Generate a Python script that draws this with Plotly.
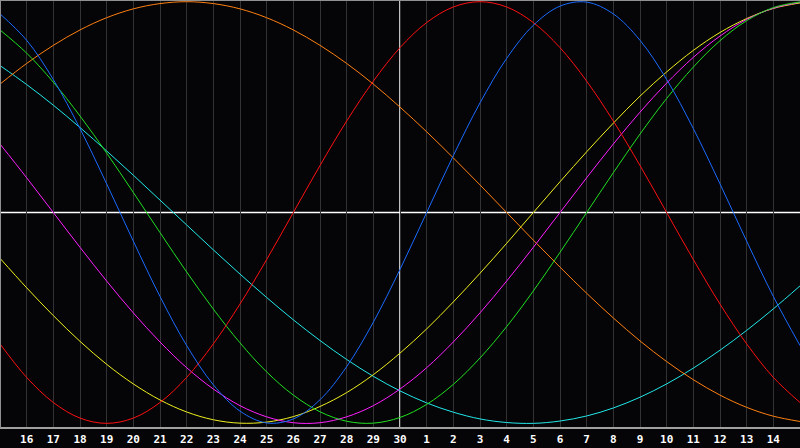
import plotly.graph_objects as go

# Day index 0..30 (0 = 15th of previous month, 15 = the 30th, 16 = 1st ...)
day_index = list(range(31))
day_labels = ["15", "16", "17", "18", "19", "20", "21", "22", "23", "24", "25", "26", "27", "28", "29", "30",
              "1", "2", "3", "4", "5", "6", "7", "8", "9", "10", "11", "12", "13", "14", "15"]
today_index = 15

physical = [0.942, 0.817, 0.631, 0.398, 0.136, -0.136, -0.398, -0.631, -0.817, -0.942, -0.998,
            -0.979, -0.888, -0.731, -0.520, -0.270, 0.0, 0.270, 0.520, 0.731, 0.888,
            0.979, 0.998, 0.942, 0.817, 0.631, 0.398, 0.136, -0.136, -0.398, -0.631]
emotional = [-0.623, -0.782, -0.901, -0.975, -1.0, -0.975, -0.901, -0.782, -0.623, -0.434, -0.223,
             0.0, 0.223, 0.434, 0.623, 0.782, 0.901, 0.975, 1.0, 0.975, 0.901,
             0.782, 0.623, 0.434, 0.223, 0.0, -0.223, -0.434, -0.623, -0.782, -0.901]
intellectual = [0.866, 0.756, 0.618, 0.458, 0.282, 0.095, -0.095, -0.282, -0.458, -0.618, -0.756,
                -0.866, -0.945, -0.990, -0.999, -0.972, -0.910, -0.815, -0.690, -0.541, -0.372,
                -0.189, 0.0, 0.189, 0.372, 0.541, 0.690, 0.815, 0.910, 0.972, 0.999]
intuitive = [0.325, 0.165, 0.0, -0.165, -0.325, -0.476, -0.614, -0.736, -0.837, -0.916, -0.969,
             -0.997, -0.997, -0.969, -0.916, -0.837, -0.736, -0.614, -0.476, -0.325, -0.165,
             0.0, 0.165, 0.325, 0.476, 0.614, 0.736, 0.837, 0.916, 0.969, 0.997]
aesthetic = [-0.217, -0.357, -0.489, -0.611, -0.720, -0.813, -0.889, -0.946, -0.983, -0.999, -0.994,
             -0.968, -0.920, -0.854, -0.769, -0.667, -0.552, -0.424, -0.288, -0.146, 0.0,
             0.146, 0.288, 0.424, 0.552, 0.667, 0.769, 0.854, 0.920, 0.968, 0.994]
awareness = [0.609, 0.707, 0.793, 0.866, 0.924, 0.966, 0.991, 1.0, 0.991, 0.966, 0.924,
             0.866, 0.793, 0.707, 0.609, 0.5, 0.383, 0.259, 0.131, 0.0, -0.131,
             -0.259, -0.383, -0.5, -0.609, -0.707, -0.793, -0.866, -0.924, -0.966, -0.991]
spiritual = [0.697, 0.607, 0.509, 0.403, 0.292, 0.177, 0.059, -0.059, -0.177, -0.292, -0.403,
             -0.509, -0.607, -0.697, -0.777, -0.846, -0.903, -0.947, -0.979, -0.996, -1.0,
             -0.989, -0.965, -0.927, -0.876, -0.813, -0.738, -0.653, -0.559, -0.457, -0.348]

series = [
    ("Spiritual", spiritual, "#22e8e8"),
    ("Awareness", awareness, "#ff8010"),
    ("Aesthetic", aesthetic, "#f0f020"),
    ("Intuitive", intuitive, "#ff20ff"),
    ("Intellectual", intellectual, "#20e020"),
    ("Emotional", emotional, "#ff1010"),
    ("Physical", physical, "#1a6bff"),
]

fig = go.Figure()
for name, vals, col in series:
    fig.add_trace(go.Scatter(
        x=day_index, y=vals, mode="lines", name=name,
        line=dict(color=col, width=1, shape="spline", smoothing=1.0),
        hoverinfo="skip",
    ))

tick_vals = day_index[1:-1]
tick_text = day_labels[1:-1]

fig.update_layout(
    width=800, height=448,
    margin=dict(l=0, r=0, t=0, b=20),
    paper_bgcolor="#050508",
    plot_bgcolor="#050508",
    showlegend=False,
    xaxis=dict(
        range=[0, 30], tickmode="array", tickvals=tick_vals, ticktext=tick_text,
        showgrid=True, gridcolor="#333333", gridwidth=1, zeroline=False,
        showline=False, ticks="", ticklabelstandoff=3,
        tickfont=dict(family="DejaVu Sans Mono", size=11, color="#ffffff", weight="bold"),
        fixedrange=True,
    ),
    yaxis=dict(
        range=[-1.022, 1.008], showgrid=False, zeroline=False, showticklabels=False,
        showline=False, ticks="", fixedrange=True,
    ),
    shapes=[
        dict(type="line", xref="paper", yref="paper", x0=0, x1=1, y0=0, y1=0,
             line=dict(color="#a0a0a0", width=2), layer="above"),
        dict(type="line", xref="paper", yref="paper", x0=0, x1=1, y0=1, y1=1,
             line=dict(color="#909090", width=2), layer="above"),
        dict(type="line", xref="paper", yref="paper", x0=0, x1=0, y0=0, y1=1,
             line=dict(color="#909090", width=2), layer="above"),
        dict(type="line", xref="x", yref="paper", x0=today_index, x1=today_index, y0=0, y1=1,
             line=dict(color="#ffffff", width=1.5), layer="between"),
        dict(type="line", xref="paper", yref="y", x0=0, x1=1, y0=0, y1=0,
             line=dict(color="#ffffff", width=1.5), layer="between"),
    ],
)

fig.write_html(
    "out.html",
    config={"displayModeBar": False},
    post_script="document.body.style.margin='0';document.body.style.overflow='hidden';"
                "document.body.style.background='#050508';",
)
